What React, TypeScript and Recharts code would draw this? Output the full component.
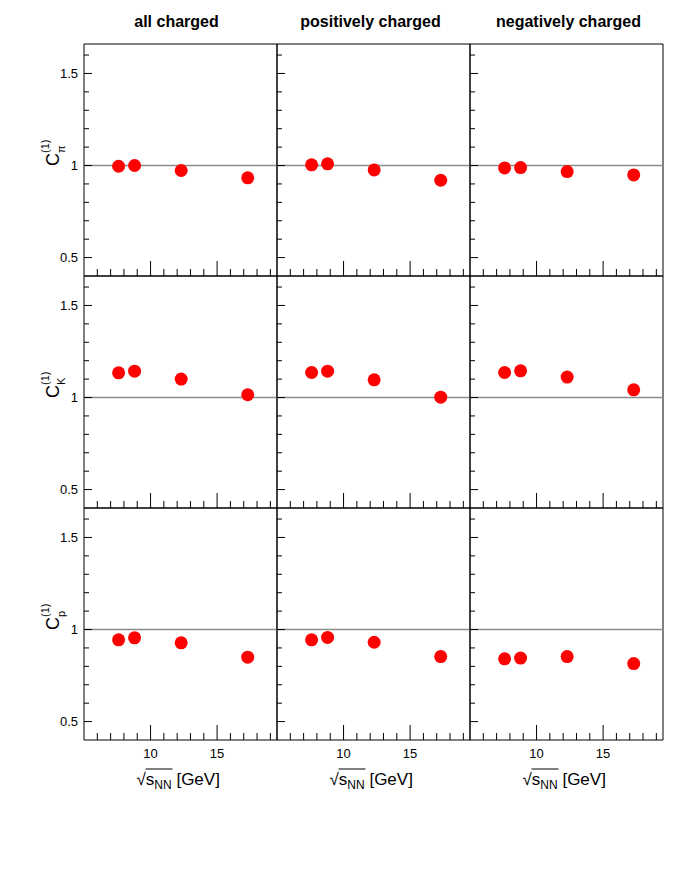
import { ScatterChart, Scatter, XAxis, YAxis, ReferenceLine, ReferenceArea } from "recharts";

// beam energies, sqrt(s_NN) in GeV
const energies = [7.6, 8.8, 12.3, 17.3];

const columnTitles = ["all charged", "positively charged", "negatively charged"];
const particles = ["π", "K", "p"];

// C^(1) values, one array per panel
const pionAll = [0.996, 1.0, 0.973, 0.933];
const pionPos = [1.004, 1.009, 0.976, 0.92];
const pionNeg = [0.987, 0.989, 0.967, 0.949];
const kaonAll = [1.134, 1.143, 1.1, 1.015];
const kaonPos = [1.136, 1.143, 1.096, 1.002];
const kaonNeg = [1.136, 1.145, 1.111, 1.042];
const protonAll = [0.944, 0.955, 0.928, 0.85];
const protonPos = [0.944, 0.957, 0.931, 0.853];
const protonNeg = [0.841, 0.845, 0.853, 0.815];

const panels = [
  [pionAll, pionPos, pionNeg],
  [kaonAll, kaonPos, kaonNeg],
  [protonAll, protonPos, protonNeg],
];

const xTicks = [6, 7, 8, 9, 10, 11, 12, 13, 14, 15, 16, 17, 18, 19];
const xLabelTicks = [10, 15];
const yTicks = [0.5, 0.6, 0.7, 0.8, 0.9, 1, 1.1, 1.2, 1.3, 1.4, 1.5, 1.6];
const yLabelTicks = [0.5, 1, 1.5];

const X_DOMAIN = [5, 19.5];
const Y_DOMAIN = [0.4, 1.66];

const COL_LEFT = [84, 277, 470];
const COL_W = 193;
const ROW_TOP = [44, 276, 508];
const ROW_H = 232;
const Y_AXIS_W = 84;
const X_AXIS_H = 60;

const YTick = (props: any) => {
  const { x, y, payload, showLabel } = props;
  const major = yLabelTicks.includes(payload.value);
  return (
    <g>
      <line x1={x} y1={y} x2={x + (major ? 8 : 5)} y2={y} stroke="#000" strokeWidth={1} />
      {showLabel && major && (
        <text x={x - 6} y={y} dy={4.5} textAnchor="end" fontSize={13} fill="#000">
          {payload.value}
        </text>
      )}
    </g>
  );
};

const XTick = (props: any) => {
  const { x, y, payload, showLabel } = props;
  const major = xLabelTicks.includes(payload.value);
  return (
    <g>
      <line x1={x} y1={y} x2={x} y2={y - (major ? 15 : 7)} stroke="#000" strokeWidth={1} />
      {showLabel && major && (
        <text x={x} y={y + 18} textAnchor="middle" fontSize={13} fill="#000">
          {payload.value}
        </text>
      )}
    </g>
  );
};

const Dot = (props: any) => <circle cx={props.cx} cy={props.cy} r={6.5} fill="#ff0000" />;

const Panel = ({ row, col }: { row: number; col: number }) => {
  const data = energies.map((e, i) => ({ x: e, y: panels[row][col][i] }));
  return (
    <div style={{ position: "absolute", left: COL_LEFT[col] - Y_AXIS_W, top: ROW_TOP[row] - 1 }}>
      <ScatterChart
        width={Y_AXIS_W + COL_W + 1}
        height={ROW_H + X_AXIS_H + 1}
        margin={{ top: 1, right: 1, bottom: 0, left: 0 }}
      >
        <XAxis
          type="number"
          dataKey="x"
          domain={X_DOMAIN}
          ticks={xTicks}
          interval={0}
          height={X_AXIS_H}
          axisLine={false}
          tickLine={false}
          tickSize={0}
          tickMargin={0}
          tick={(p: any) => <XTick {...p} showLabel={row === 2} />}
        />
        <YAxis
          type="number"
          dataKey="y"
          domain={Y_DOMAIN}
          ticks={yTicks}
          interval={0}
          width={Y_AXIS_W}
          axisLine={false}
          tickLine={false}
          tickSize={0}
          tickMargin={0}
          tick={(p: any) => <YTick {...p} showLabel={col === 0} />}
        />
        <ReferenceLine y={1} stroke="#8c8c8c" strokeWidth={1.5} />
        <ReferenceArea x1={5} x2={19.5} y1={0.4} y2={1.66} fill="none" stroke="#000" strokeWidth={1} />
        <Scatter data={data} shape={Dot} isAnimationActive={false} />
      </ScatterChart>
    </div>
  );
};

export default function App() {
  return (
    <div
      style={{
        position: "absolute",
        left: 0,
        top: 0,
        width: 698,
        height: 870,
        background: "#fff",
        fontFamily: "'Liberation Sans', Arial, sans-serif",
      }}
    >
      {[0, 1, 2].map((r) => [0, 1, 2].map((c) => <Panel key={`${r}-${c}`} row={r} col={c} />))}
      <svg width={698} height={870} style={{ position: "absolute", left: 0, top: 0, pointerEvents: "none" }}>
        {columnTitles.map((t, c) => (
          <text
            key={t}
            x={COL_LEFT[c] + COL_W / 2 - (c === 0 ? 4 : c === 1 ? 3 : -2)}
            y={27}
            textAnchor="middle"
            fontSize={16}
            fontWeight="bold"
          >
            {t}
          </text>
        ))}
        {particles.map((p, r) => (
          <text key={p} transform={`translate(59, ${ROW_TOP[r] + 122}) rotate(-90)`} fontSize={18}>
            C
            <tspan x={13} y={6} fontSize={11}>
              {p}
            </tspan>
            <tspan x={13} y={-10} fontSize={11}>
              (1)
            </tspan>
          </text>
        ))}
        {[0, 1, 2].map((c) => {
          const cx = COL_LEFT[c] + COL_W / 2;
          const sx = cx - 44;
          return (
            <g key={c}>
              <text x={sx} y={785} fontSize={17}>
                √s
                <tspan fontSize={12} dy={4}>
                  NN
                </tspan>
                <tspan dy={-4}> [GeV]</tspan>
              </text>
              <line x1={sx + 9} y1={769} x2={sx + 36} y2={769} stroke="#000" strokeWidth={1} />
            </g>
          );
        })}
      </svg>
    </div>
  );
}
